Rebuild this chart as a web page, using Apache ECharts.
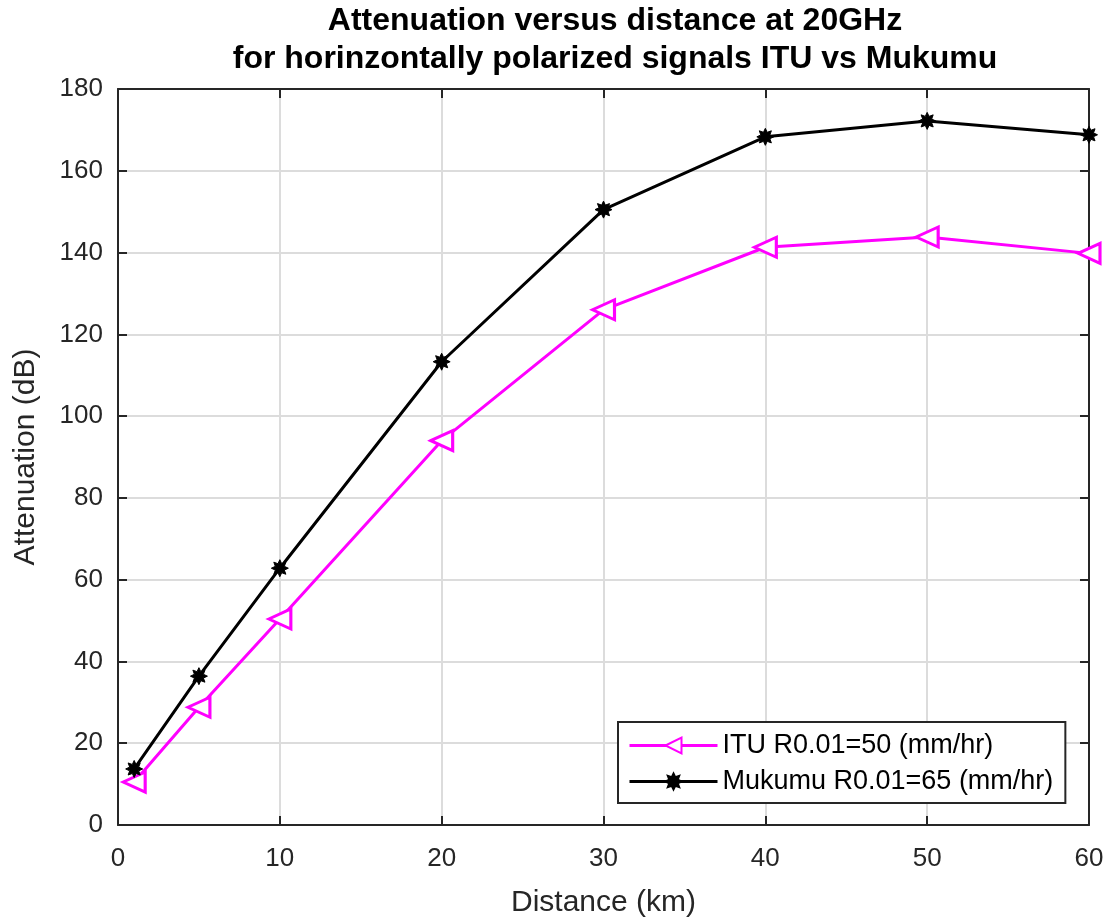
<!DOCTYPE html>
<html><head><meta charset="utf-8">
<script src="https://cdn.jsdelivr.net/npm/echarts@6/dist/echarts.min.js"></script>
<style>html,body{margin:0;padding:0;background:#fff}#c{width:1107px;height:919px}</style>
</head><body><div id="c"></div>
<script>
const distances = [1, 5, 10, 20, 30, 40, 50, 60];
const ituValues = [10.5, 28.8, 50.4, 94.0, 126.0, 141.3, 143.8, 139.8];
const mukumuValues = [13.7, 36.4, 62.8, 113.3, 150.5, 168.3, 172.2, 168.8];
const xTicks = [0, 10, 20, 30, 40, 50, 60];
const yTicks = [0, 20, 40, 60, 80, 100, 120, 140, 160, 180];

const star = 'path://M0,-10 L2.2,-5.3 L7.1,-7.1 L5.3,-2.2 L10,0 L5.3,2.2 L7.1,7.1 L2.2,5.3 L0,10 L-2.2,5.3 L-7.1,7.1 L-5.3,2.2 L-10,0 L-5.3,-2.2 L-7.1,-7.1 L-2.2,-5.3 Z';
const font = 'Liberation Sans, Arial, sans-serif';
const chart = echarts.init(document.getElementById('c'));
const axisBase = {
  axisLine: {show: true, onZero: false, lineStyle: {color: '#262626', width: 2}},
  axisTick: {show: true, inside: true, length: 9, lineStyle: {color: '#262626', width: 2}},
};
chart.setOption({
  animation: false,
  title: {
    text: 'Attenuation versus distance at 20GHz\nfor horinzontally polarized signals ITU vs Mukumu',
    left: 610, top: -3, textAlign: 'center',
    textStyle: {fontFamily: font, fontSize: 32, fontWeight: 'bold', color: '#000', lineHeight: 38}
  },
  grid: {left: 118, right: 18, top: 89, bottom: 94, containLabel: false, outerBoundsMode: 'none'},
  legend: {
    orient: 'vertical', left: 618, top: 722,
    padding: [10, 12, 8, 10],
    borderColor: '#262626', borderWidth: 2, backgroundColor: '#fff',
    itemWidth: 88, itemHeight: 20, itemGap: 9,
    lineStyle: {width: 3},
    textStyle: {fontFamily: font, fontSize: 27, color: '#000'},
    data: ['ITU R0.01=50 (mm/hr)', 'Mukumu R0.01=65 (mm/hr)']
  },
  xAxis: [{
    type: 'value', min: 0, max: 60, interval: 10, position: 'bottom',
    ...axisBase,
    name: 'Distance (km)', nameLocation: 'middle', nameGap: 63,
    nameTextStyle: {fontFamily: font, fontSize: 30, color: '#262626'},
    axisLabel: {fontFamily: font, fontSize: 26, color: '#262626', margin: 21,
      formatter: v => xTicks.includes(v) ? String(v) : ''},
    splitLine: {show: true, lineStyle: {color: '#dcdcdc', width: 2}}
  }, {
    type: 'value', min: 0, max: 60, interval: 10, position: 'top',
    ...axisBase, axisLabel: {show: false}, splitLine: {show: false}
  }],
  yAxis: [{
    type: 'value', min: 0, max: 180, interval: 20, position: 'left',
    ...axisBase,
    name: 'Attenuation (dB)', nameLocation: 'middle', nameGap: 77,
    nameTextStyle: {fontFamily: font, fontSize: 30, color: '#262626'},
    axisLabel: {fontFamily: font, fontSize: 26, color: '#262626', margin: 15,
      formatter: v => yTicks.includes(v) ? String(v) : ''},
    splitLine: {show: true, lineStyle: {color: '#dcdcdc', width: 2}}
  }, {
    type: 'value', min: 0, max: 180, interval: 20, position: 'right',
    ...axisBase, axisLabel: {show: false}, splitLine: {show: false}
  }],
  series: [{
    name: 'ITU R0.01=50 (mm/hr)', type: 'line',
    data: distances.map((d, i) => [d, ituValues[i]]),
    symbol: 'triangle', symbolRotate: 90, symbolSize: [20, 22],
    lineStyle: {color: '#ff00ff', width: 3},
    itemStyle: {color: '#fff', borderColor: '#ff00ff', borderWidth: 3},
    z: 3
  }, {
    name: 'Mukumu R0.01=65 (mm/hr)', type: 'line',
    data: distances.map((d, i) => [d, mukumuValues[i]]),
    symbol: star, symbolSize: 17,
    lineStyle: {color: '#000', width: 3},
    itemStyle: {color: '#000', borderColor: '#000', borderWidth: 1},
    z: 4
  }]
});
</script></body></html>
